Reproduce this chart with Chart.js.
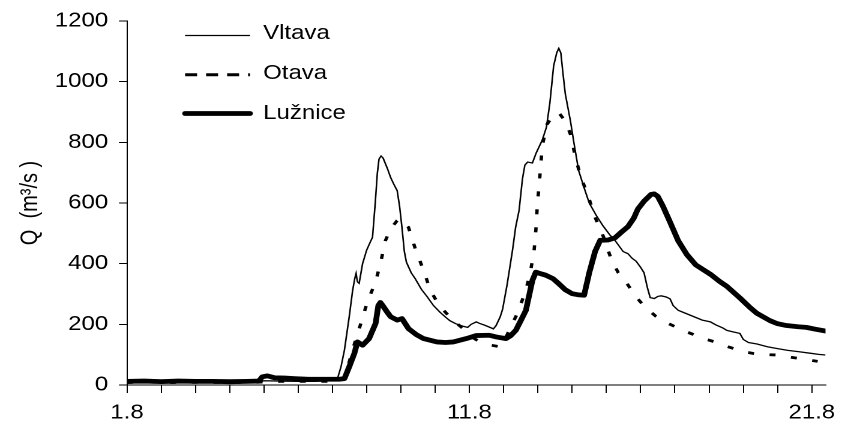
<!DOCTYPE html>
<html><head><meta charset="utf-8">
<script src="https://cdn.jsdelivr.net/npm/chart.js@4.4.0/dist/chart.umd.min.js"></script>
<style>html,body{margin:0;padding:0;background:#fff;overflow:hidden}</style>
</head><body>
<canvas id="c" width="704" height="432" style="width:845px;height:432px;display:block"></canvas>
<script>
// ---- data (x = day of August, y = discharge Q in m3/s) ----
const vltavaDay = [1.0,1.4,1.8,2.2,2.6,3.0,3.4,3.8,4.2,4.6,4.9,5.0,5.5,6.0,6.5,7.0,7.16,7.25,7.35,7.49,7.59,7.65,7.69,7.73,7.78,7.88,8.0,8.1,8.17,8.25,8.31,8.36,8.42,8.48,8.6,8.7,8.8,8.89,8.96,9.03,9.1,9.16,9.3,9.42,9.6,9.76,9.95,10.14,10.3,10.43,10.6,10.8,10.95,11.05,11.2,11.3,11.45,11.6,11.7,11.78,11.9,11.97,12.1,12.26,12.35,12.45,12.55,12.62,12.7,12.84,12.95,13.13,13.25,13.35,13.46,13.55,13.61,13.67,13.73,13.8,13.95,14.05,14.19,14.35,14.5,14.7,14.9,15.1,15.25,15.49,15.63,15.75,15.87,16.0,16.1,16.2,16.28,16.4,16.5,16.6,16.75,16.86,16.95,17.1,17.3,17.56,17.8,18.04,18.2,18.4,18.52,18.7,18.9,19.0,19.15,19.4,19.7,20.0,20.3,20.6,21.0,21.2,21.4];
const vltavaQ = [10,12,9,13,10,12,9,11,10,12,11,14,13,12,12,14,26,60,115,225,312,350,368,340,335,400,445,470,487,600,697,745,755,748,715,684,660,641,590,520,440,405,370,350,315,292,262,240,224,212,202,194,190,200,208,203,197,190,185,196,225,250,330,445,520,575,680,725,735,732,765,808,850,930,1052,1095,1110,1095,1030,960,871,800,707,650,600,560,525,495,477,440,433,418,408,388,370,320,288,285,292,294,290,284,262,246,237,225,214,208,198,188,180,175,170,150,140,135,126,120,114,110,104,101,99];

const otavaDay = [1.0,1.6,2.2,2.8,3.4,4.0,4.6,5.0,5.5,6.0,6.5,7.0,7.3,7.45,7.6,7.83,8.02,8.26,8.41,8.55,8.7,8.89,8.97,9.1,9.22,9.42,9.66,9.86,10.05,10.29,10.55,10.82,11.05,11.3,11.6,11.88,12.1,12.4,12.65,12.79,12.89,12.94,12.98,13.03,13.08,13.13,13.27,13.45,13.61,13.8,13.95,14.1,14.24,14.48,14.67,14.91,15.15,15.35,15.54,15.75,15.97,16.2,16.45,16.75,17.03,17.3,17.6,17.9,18.23,18.5,18.76,19.1,19.39,19.7,19.97,20.3,20.6,20.9,21.17];
const otavaQ = [8,10,8,9,8,9,8,10,12,12,12,12,14,60,120,203,274,340,405,477,515,542,548,535,520,449,378,312,275,241,210,186,160,142,132,126,165,236,312,378,444,510,586,652,718,790,860,890,898,870,827,750,690,619,553,490,412,370,345,310,277,250,226,206,191,177,164,151,140,128,119,108,102,100,99,93,88,83,78];

const luznDay = [1.0,1.5,2.0,2.5,3.0,3.5,4.0,4.5,4.85,4.95,5.1,5.3,5.6,5.9,6.3,6.8,7.2,7.35,7.49,7.64,7.73,7.88,8.07,8.26,8.34,8.40,8.48,8.6,8.7,8.89,9.03,9.22,9.45,9.66,10.05,10.3,10.53,10.91,11.2,11.58,11.8,12.07,12.2,12.36,12.5,12.65,12.84,12.94,13.05,13.23,13.45,13.61,13.8,14.0,14.2,14.35,14.5,14.67,14.82,15.05,15.25,15.45,15.63,15.8,15.92,16.1,16.3,16.4,16.5,16.65,16.84,17.1,17.35,17.61,18.04,18.3,18.52,18.91,19.2,19.4,19.78,20.0,20.26,20.6,20.84,21.1,21.4];
const luznQ = [12,13,11,13,12,12,11,12,13,27,30,24,23,21,19,19,19,21,60,104,142,131,153,203,262,272,260,240,225,214,219,186,166,153,142,140,142,153,163,164,158,153,162,181,212,246,345,372,368,362,350,334,314,301,297,296,370,440,477,478,485,505,522,550,580,606,628,630,622,590,542,475,430,396,365,342,325,286,255,236,212,202,196,192,190,184,178];

const seriesNames = ['Vltava', 'Otava', 'Lužnice'];
const xTickDays = [1,2,3,4,5,6,7,8,9,10,11,12,13,14,15,16,17,18,19,20,21];
const xLabelDays = [1, 11, 21];
const xLabelTexts = ['1.8', '11.8', '21.8'];
const yTickValues = [0, 200, 400, 600, 800, 1000, 1200];
const yTitle = 'Q  (m³/s )';

function pts(xs, ys) { return xs.map((x, i) => ({x: x, y: ys[i]})); }

const FONT = '"Liberation Sans", Arial, sans-serif';
Chart.defaults.font.family = FONT;
Chart.defaults.font.size = 20;
Chart.defaults.color = '#000';

const legendLineY = [35.5, 74.8, 113.5];
const legendTextY = [33.5, 73.5, 113.5];
const legendDash = [[], [10, 7.5], []];
const legendWidth = [1.2, 3, 4.8];

const insideLegend = {
  id: 'insideLegend',
  afterDraw(chart) {
    const ctx = chart.ctx;
    ctx.save();
    chart.data.datasets.forEach((ds, i) => {
      ctx.beginPath();
      ctx.strokeStyle = '#000';
      ctx.lineWidth = legendWidth[i];
      ctx.setLineDash(legendDash[i]);
      ctx.lineCap = i === 2 ? 'round' : 'butt';
      ctx.moveTo(154.2, legendLineY[i]);
      ctx.lineTo(208.3, legendLineY[i]);
      ctx.stroke();
      ctx.setLineDash([]);
      ctx.fillStyle = '#000';
      ctx.font = '20px ' + FONT;
      ctx.textBaseline = 'middle';
      ctx.textAlign = 'left';
      ctx.fillText(ds.label, 219.2, legendTextY[i]);
    });
    ctx.restore();
  }
};

new Chart(document.getElementById('c'), {
  type: 'line',
  data: {
    datasets: [
      {label: seriesNames[0], data: pts(vltavaDay, vltavaQ), borderColor: '#000', borderWidth: 1.3, pointRadius: 0, tension: 0, fill: false},
      {label: seriesNames[1], data: pts(otavaDay, otavaQ), borderColor: '#000', borderWidth: 2.8, borderDash: [5, 13], pointRadius: 0, tension: 0, fill: false},
      {label: seriesNames[2], data: pts(luznDay, luznQ), borderColor: '#000', borderWidth: 4.8, borderCapStyle: 'round', borderJoinStyle: 'round', pointRadius: 0, tension: 0, fill: false}
    ]
  },
  options: {
    responsive: false,
    devicePixelRatio: 2,
    animation: false,
    layout: {padding: {top: 20, right: 10, left: 0, bottom: 0}},
    plugins: {legend: {display: false}, tooltip: {enabled: false}},
    scales: {
      x: {
        type: 'linear', min: 1, max: 21.4,
        afterBuildTicks: s => { s.ticks = xTickDays.map(v => ({value: v})); },
        afterFit: s => { s.height = 47; },
        ticks: {
          autoSkip: false, maxRotation: 0, minRotation: 0, padding: 8, color: '#000',
          callback: v => { const i = xLabelDays.indexOf(v); return i >= 0 ? xLabelTexts[i] : ''; }
        },
        grid: {drawOnChartArea: false, drawTicks: true, tickLength: 8, color: '#000', lineWidth: 1},
        border: {display: true, color: '#000', width: 1}
      },
      y: {
        min: 0, max: 1200,
        afterBuildTicks: s => { s.ticks = yTickValues.map(v => ({value: v})); },
        afterFit: s => { s.width = 105.8; },
        ticks: {padding: 9, color: '#000', callback: v => String(v)},
        grid: {drawOnChartArea: false, drawTicks: true, tickLength: 6.7, color: '#000', lineWidth: 1},
        border: {display: true, color: '#000', width: 1},
        title: {display: true, text: yTitle, color: '#000', padding: {top: 13.4, bottom: 0}}
      }
    }
  },
  plugins: [insideLegend]
});
</script>
</body></html>
